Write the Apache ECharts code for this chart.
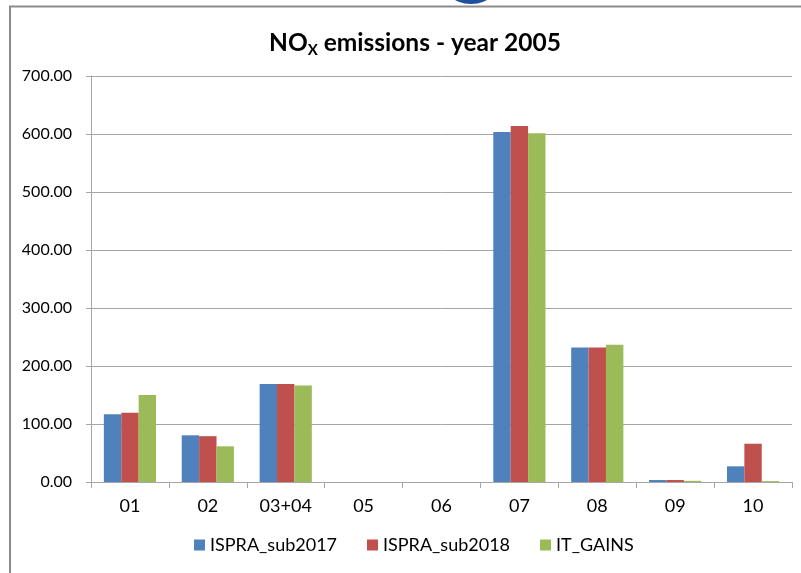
<!DOCTYPE html>
<html>
<head>
<meta charset="utf-8">
<script src="https://cdn.jsdelivr.net/npm/echarts@6/dist/echarts.min.js"></script>
<style>
  html, body { margin: 0; padding: 0; background: #fff; }
  #chart { width: 801px; height: 573px; }
</style>
</head>
<body>
<div id="chart"></div>
<script>
// Sector categories on the x axis
const categories = ['01', '02', '03+04', '05', '06', '07', '08', '09', '10'];

// NOx emissions per sector, year 2005
const ispraSub2017 = [117, 80.5, 169, 0, 0, 603.5, 232, 3.4, 27];
const ispraSub2018 = [119.5, 79, 169, 0, 0, 614, 232, 3.4, 66];
const itGains      = [150, 61.5, 166.5, 0, 0, 601.5, 236.5, 2, 1.5];

// Value axis ticks
const yTicks = [0, 100, 200, 300, 400, 500, 600, 700];

const seriesNames = ['ISPRA_sub2017', 'ISPRA_sub2018', 'IT_GAINS'];
const seriesColors = ['#4F81BD', '#C0504D', '#9BBB59'];
const seriesValues = [ispraSub2017, ispraSub2018, itGains];

const FONT = 'Lato, "Open Sans", sans-serif';
const chart = echarts.init(document.getElementById('chart'), null, { renderer: 'canvas' });

chart.setOption({
  animation: false,
  backgroundColor: '#ffffff',
  color: seriesColors,
  textStyle: { fontFamily: FONT },
  title: {
    text: '{a|NO}{b|X}{a| emissions - year 2005}',
    left: 264,
    top: 24,
    textStyle: {
      rich: {
        a: { fontFamily: FONT, fontSize: 24.5, fontWeight: 'bold', color: '#000', lineHeight: 28 },
        b: { fontFamily: FONT, fontSize: 15, fontWeight: 'bold', color: '#000', padding: [15, 0, 0, 0], lineHeight: 28 }
      }
    }
  },
  graphic: [
    {
      type: 'rect',
      shape: { x: 10, y: 6.5, width: 900, height: 700 },
      style: { fill: 'none', stroke: '#8c8c8c', lineWidth: 2 },
      z: 0
    },
    {
      type: 'circle',
      shape: { cx: 471, cy: -30, r: 34 },
      style: { fill: '#1f4f9e' },
      z: 1
    }
  ],
  legend: {
    data: seriesNames,
    bottom: 14,
    left: 189,
    icon: 'rect',
    itemWidth: 11,
    itemHeight: 11,
    itemGap: 30,
    textStyle: { fontFamily: FONT, fontSize: 18, color: '#000' }
  },
  grid: { left: 91, right: 9, top: 76, bottom: 91, containLabel: false },
  xAxis: {
    type: 'category',
    data: categories,
    axisLine: { lineStyle: { color: '#a6a6a6', width: 1 } },
    axisTick: { show: true, length: 6, lineStyle: { color: '#a6a6a6' } },
    axisLabel: { fontFamily: FONT, fontSize: 18, color: '#000', margin: 15 }
  },
  yAxis: {
    type: 'value',
    min: yTicks[0],
    max: yTicks[yTicks.length - 1],
    interval: 100,
    axisLine: { show: true, lineStyle: { color: '#a6a6a6', width: 1 } },
    axisTick: { show: true, length: 5, lineStyle: { color: '#a6a6a6' } },
    splitLine: { lineStyle: { color: '#a6a6a6', width: 1 } },
    axisLabel: {
      fontFamily: FONT, fontSize: 16, color: '#000', margin: 19,
      formatter: v => v.toFixed(2)
    }
  },
  series: seriesValues.map((vals, i) => ({
    name: seriesNames[i],
    type: 'bar',
    data: vals,
    barGap: '0%',
    barCategoryGap: '33%',
    itemStyle: { color: seriesColors[i] }
  }))
});
</script>
</body>
</html>
